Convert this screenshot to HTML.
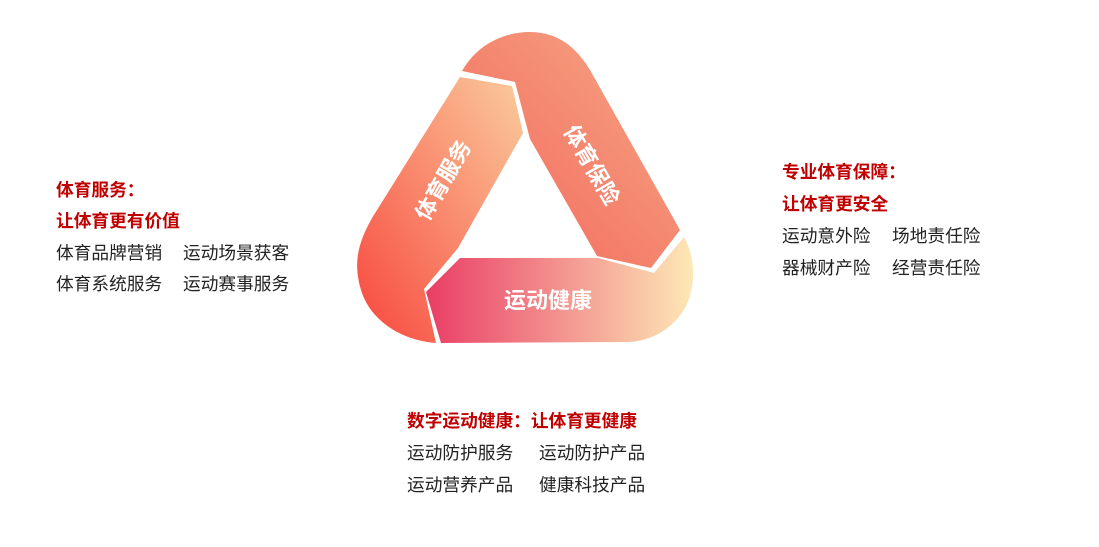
<!DOCTYPE html>
<html><head><meta charset="utf-8"><style>
body{margin:0;width:1099px;height:547px;background:#fff;position:relative;overflow:hidden;font-family:"Liberation Sans","Noto Sans CJK SC",sans-serif;}
.t{position:absolute;font-size:17.7px;line-height:20px;color:#222;white-space:pre;}
.r{color:#c00000;font-weight:bold;}
</style></head><body>
<svg width="1099" height="547" style="position:absolute;left:0;top:0">
<defs>
<linearGradient id="gl" x1="0" y1="1" x2="1" y2="0"><stop offset="0" stop-color="#f7463d"/><stop offset="1" stop-color="#fbcc9c"/></linearGradient>
<linearGradient id="gr" x1="1" y1="0" x2="0" y2="1"><stop offset="0" stop-color="#f6a985"/><stop offset="1" stop-color="#f2645a"/></linearGradient>
<linearGradient id="gb" x1="0" y1="0" x2="1" y2="0"><stop offset="0" stop-color="#e93d66"/><stop offset="1" stop-color="#fde8b6"/></linearGradient>
</defs>
<path d="M460,77 L512,86 L523,133 L458,248 L424,289 L436,343 C400,340 370,320 361,290 C352,260 360,240 372,218 Z" fill="url(#gl)"/>
<path d="M462,71 C480,40 510,32 530,32 C560,32 578,50 590,70 L680,230 L651,268 L597,256 L530,139 L515,82 Z" fill="url(#gr)"/>
<path d="M426,292 L460,258 L598,258 L654,273 L684,237 C697,260 695,290 685,308 C672,330 650,342 625,342 L441,343 Z" fill="url(#gb)"/>
<text x="443" y="188" font-size="22" font-weight="bold" fill="#fff" text-anchor="middle" transform="rotate(-60 443 180)" font-family="Liberation Sans,Noto Sans CJK SC,sans-serif">体育服务</text>
<text x="592" y="173" font-size="22" font-weight="bold" fill="#fff" text-anchor="middle" transform="rotate(60 592 165)" font-family="Liberation Sans,Noto Sans CJK SC,sans-serif">体育保险</text>
<text x="548" y="308" font-size="22" font-weight="bold" fill="#fff" text-anchor="middle" font-family="Liberation Sans,Noto Sans CJK SC,sans-serif">运动健康</text>
</svg>
<div class="t r" style="left:56px;top:180px">体育服务：</div>
<div class="t r" style="left:56px;top:211px">让体育更有价值</div>
<div class="t" style="left:56px;top:243px">体育品牌营销</div><div class="t" style="left:183px;top:243px">运动场景获客</div>
<div class="t" style="left:56px;top:274px">体育系统服务</div><div class="t" style="left:183px;top:274px">运动赛事服务</div>
<div class="t r" style="left:782px;top:162px">专业体育保障：</div>
<div class="t r" style="left:782px;top:194px">让体育更安全</div>
<div class="t" style="left:782px;top:226px">运动意外险</div><div class="t" style="left:892px;top:226px">场地责任险</div>
<div class="t" style="left:782px;top:258px">器械财产险</div><div class="t" style="left:892px;top:258px">经营责任险</div>
<div class="t r" style="left:407px;top:411px">数字运动健康：让体育更健康</div>
<div class="t" style="left:407px;top:443px">运动防护服务</div><div class="t" style="left:539px;top:443px">运动防护产品</div>
<div class="t" style="left:407px;top:475px">运动营养产品</div><div class="t" style="left:539px;top:475px">健康科技产品</div>
</body></html>
